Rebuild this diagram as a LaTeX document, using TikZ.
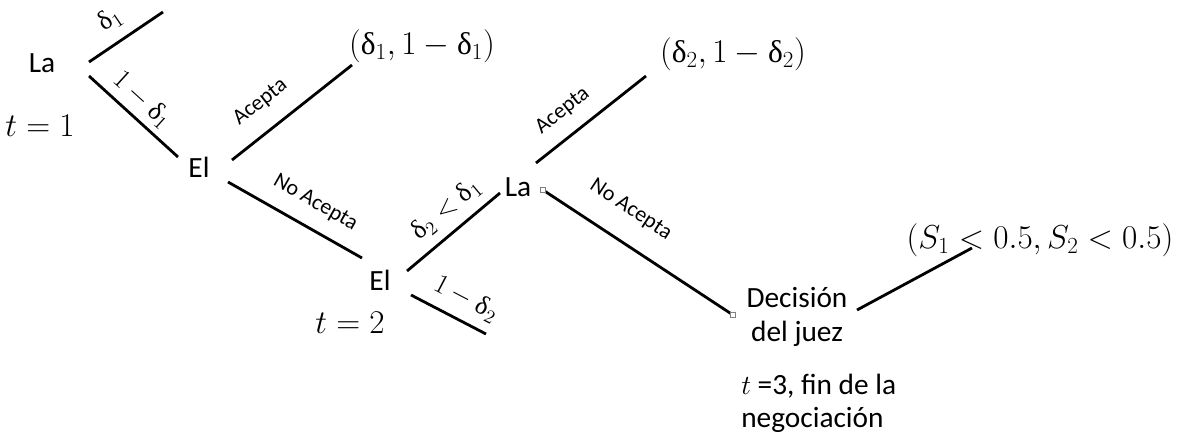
\documentclass[tikz,border=0pt]{standalone}
\usepackage{fontspec}
\setmainfont{Carlito}
\newfontfamily\grk{Liberation Serif}
\newcommand\dlt{\mbox{\grk δ}}
\begin{document}
\begin{tikzpicture}[x=0.75pt,y=-0.75pt,
  br/.style={line width=2.1pt},
  lbl/.style={font=\fontsize{16.5}{18}\selectfont,sloped,above},
  ml/.style={font=\fontsize{20}{22}\selectfont,sloped,above},
  pl/.style={font=\fontsize{22}{26}\selectfont,inner sep=0pt},
  mt/.style={font=\fontsize{23.6}{26}\selectfont,inner sep=0pt},
  hnd/.style={draw=gray,fill=white,line width=0.4pt,minimum size=4pt,inner sep=0pt}]
\useasboundingbox (0,0) rectangle (1177,439);
% player nodes
\node[pl] (la1) at (42,63) {La};
\node[mt] (t1) at (40,126) {$t=1$};
\node[pl] (el1) at (199,167) {El};
\node[pl] (el2) at (380,280) {El};
\node[mt] (t2) at (350,323) {$t=2$};
\node[pl] (la2) at (518,187) {La};
\node[pl,align=center] (dj) at (797,317) {Decisión\\del juez};
\node[pl,align=left,anchor=west,font=\fontsize{22}{25}\selectfont] (t3) at (741,403) {$t$ =3, fin de la\\negociación};
\node[mt] (p1) at (422,46) {$(\dlt_1,1-\dlt_1)$};
\node[mt] (p2) at (733,54) {$(\dlt_2,1-\dlt_2)$};
\node[mt] (p3) at (1040,240) {$(S_1<0.5,S_2<0.5)$};
% endpoints
\coordinate (a0) at (89,62);  \coordinate (a1) at (163,12);
\coordinate (b0) at (89,76);  \coordinate (b1) at (178,157);
\coordinate (c0) at (232,160); \coordinate (c1) at (352,65);
\coordinate (d0) at (228,182); \coordinate (d1) at (362,258);
\coordinate (e0) at (407,271); \coordinate (e1) at (500,193);
\coordinate (f0) at (411,295); \coordinate (f1) at (486,334);
\coordinate (g0) at (536,163); \coordinate (g1) at (646,76);
\coordinate (h0) at (543,190); \coordinate (h1) at (733,315);
\coordinate (k0) at (857,310); \coordinate (k1) at (972,248);
% branches
\draw[br] (a0) -- node[ml,pos=0.46,inner sep=8pt] {\dlt$_1$} (a1);
\draw[br] (b0) -- node[ml,pos=0.46,inner sep=4pt] {$1-\dlt_1$} (b1);
\draw[br] (c0) -- node[lbl,pos=0.38,inner sep=13pt] {Acepta} (c1);
\draw[br] (d0) -- node[lbl,pos=0.56,inner sep=11pt] {No Acepta} (d1);
\draw[br] (e0) -- node[ml,pos=0.575,inner sep=7pt] {$\dlt_2<\dlt_1$} (e1);
\draw[br] (f0) -- node[ml,pos=0.6,inner sep=7pt] {$1-\dlt_2$} (f1);
\draw[br] (g0) -- node[lbl,pos=0.38,inner sep=10.5pt] {Acepta} (g1);
\draw[br] (h0) -- node[lbl,pos=0.37,inner sep=16pt] {No Acepta} (h1);
\draw[br] (k0) -- (k1);
\node[hnd] (s1) at (h0) {};
\node[hnd] (s2) at (h1) {};
\end{tikzpicture}
\end{document}
